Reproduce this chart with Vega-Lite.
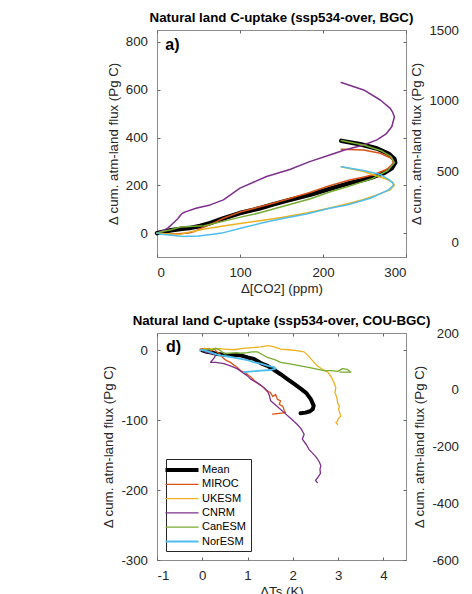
{
"$schema": "https://vega.github.io/schema/vega-lite/v6.json",
"background": "white",
"padding": {"left": 101, "top": 10, "right": 0, "bottom": 0},
"datasets": {
"a": [
{"m":"Mean","t":0,"x":0,"y":0},{"m":"Mean","t":1,"x":8,"y":6},{"m":"Mean","t":2,"x":17,"y":12},{"m":"Mean","t":3,"x":28,"y":17},{"m":"Mean","t":4,"x":39,"y":21},{"m":"Mean","t":5,"x":52,"y":30},{"m":"Mean","t":6,"x":64,"y":42},{"m":"Mean","t":7,"x":80,"y":62},{"m":"Mean","t":8,"x":100,"y":84},{"m":"Mean","t":9,"x":124,"y":104},{"m":"Mean","t":10,"x":140,"y":120},{"m":"Mean","t":11,"x":160,"y":139},{"m":"Mean","t":12,"x":184,"y":160},{"m":"Mean","t":13,"x":208,"y":185},{"m":"Mean","t":14,"x":232,"y":209},{"m":"Mean","t":15,"x":248.5,"y":223},{"m":"Mean","t":16,"x":262,"y":237},{"m":"Mean","t":17,"x":274,"y":252},{"m":"Mean","t":18,"x":283,"y":272},{"m":"Mean","t":19,"x":287,"y":295},{"m":"Mean","t":20,"x":286,"y":310},{"m":"Mean","t":21,"x":279,"y":332},{"m":"Mean","t":22,"x":265,"y":354},{"m":"Mean","t":23,"x":245,"y":372},{"m":"Mean","t":24,"x":222,"y":386},
{"m":"MIROC","t":0,"x":0,"y":0},{"m":"MIROC","t":1,"x":5,"y":-3},{"m":"MIROC","t":2,"x":12,"y":-5},{"m":"MIROC","t":3,"x":25,"y":-3},{"m":"MIROC","t":4,"x":38,"y":0},{"m":"MIROC","t":5,"x":45,"y":7},{"m":"MIROC","t":6,"x":53,"y":20},{"m":"MIROC","t":7,"x":61,"y":32},{"m":"MIROC","t":8,"x":70,"y":45},{"m":"MIROC","t":9,"x":80,"y":62},{"m":"MIROC","t":10,"x":100,"y":88},{"m":"MIROC","t":11,"x":124,"y":110},{"m":"MIROC","t":12,"x":140,"y":125},{"m":"MIROC","t":13,"x":160,"y":145},{"m":"MIROC","t":14,"x":184,"y":170},{"m":"MIROC","t":15,"x":208,"y":198},{"m":"MIROC","t":16,"x":232,"y":222},{"m":"MIROC","t":17,"x":248,"y":234},{"m":"MIROC","t":18,"x":261,"y":244},{"m":"MIROC","t":19,"x":277,"y":267},{"m":"MIROC","t":20,"x":285,"y":293},{"m":"MIROC","t":21,"x":283,"y":312},{"m":"MIROC","t":22,"x":269,"y":334},{"m":"MIROC","t":23,"x":249,"y":348},{"m":"MIROC","t":24,"x":222,"y":351},
{"m":"UKESM","t":0,"x":0,"y":0},{"m":"UKESM","t":1,"x":10,"y":-3},{"m":"UKESM","t":2,"x":19,"y":-5},{"m":"UKESM","t":3,"x":30,"y":-4},{"m":"UKESM","t":4,"x":37,"y":3},{"m":"UKESM","t":5,"x":50,"y":12},{"m":"UKESM","t":6,"x":57,"y":17},{"m":"UKESM","t":7,"x":78,"y":29},{"m":"UKESM","t":8,"x":100,"y":40},{"m":"UKESM","t":9,"x":126,"y":53},{"m":"UKESM","t":10,"x":150,"y":65},{"m":"UKESM","t":11,"x":180,"y":84},{"m":"UKESM","t":12,"x":208,"y":105},{"m":"UKESM","t":13,"x":232,"y":125},{"m":"UKESM","t":14,"x":248,"y":140},{"m":"UKESM","t":15,"x":265,"y":160},{"m":"UKESM","t":16,"x":281,"y":181},{"m":"UKESM","t":17,"x":286,"y":200},{"m":"UKESM","t":18,"x":284,"y":212},{"m":"UKESM","t":19,"x":276,"y":226},{"m":"UKESM","t":20,"x":265,"y":239},{"m":"UKESM","t":21,"x":249,"y":258},{"m":"UKESM","t":22,"x":222,"y":278},
{"m":"CNRM","t":0,"x":0,"y":0},{"m":"CNRM","t":1,"x":7,"y":10},{"m":"CNRM","t":2,"x":13,"y":21},{"m":"CNRM","t":3,"x":19,"y":40},{"m":"CNRM","t":4,"x":25,"y":60},{"m":"CNRM","t":5,"x":29,"y":78},{"m":"CNRM","t":6,"x":31,"y":84},{"m":"CNRM","t":7,"x":35,"y":90},{"m":"CNRM","t":8,"x":47,"y":104},{"m":"CNRM","t":9,"x":64,"y":118},{"m":"CNRM","t":10,"x":80,"y":139},{"m":"CNRM","t":11,"x":100,"y":188},{"m":"CNRM","t":12,"x":132,"y":237},{"m":"CNRM","t":13,"x":160,"y":266},{"m":"CNRM","t":14,"x":184,"y":299},{"m":"CNRM","t":15,"x":208,"y":327},{"m":"CNRM","t":16,"x":226,"y":348},{"m":"CNRM","t":17,"x":249,"y":369},{"m":"CNRM","t":18,"x":265,"y":390},{"m":"CNRM","t":19,"x":276,"y":415},{"m":"CNRM","t":20,"x":283,"y":446},{"m":"CNRM","t":21,"x":286,"y":487},{"m":"CNRM","t":22,"x":284,"y":505},{"m":"CNRM","t":23,"x":281,"y":522},{"m":"CNRM","t":24,"x":269,"y":557},{"m":"CNRM","t":25,"x":249,"y":599},{"m":"CNRM","t":26,"x":222,"y":630},
{"m":"CanESM","t":0,"x":0,"y":0},{"m":"CanESM","t":1,"x":8,"y":8},{"m":"CanESM","t":2,"x":17,"y":14},{"m":"CanESM","t":3,"x":29,"y":26},{"m":"CanESM","t":4,"x":45,"y":29},{"m":"CanESM","t":5,"x":57,"y":31},{"m":"CanESM","t":6,"x":78,"y":48},{"m":"CanESM","t":7,"x":102,"y":68},{"m":"CanESM","t":8,"x":124,"y":85},{"m":"CanESM","t":9,"x":150,"y":110},{"m":"CanESM","t":10,"x":184,"y":143},{"m":"CanESM","t":11,"x":208,"y":172},{"m":"CanESM","t":12,"x":232,"y":197},{"m":"CanESM","t":13,"x":260,"y":229},{"m":"CanESM","t":14,"x":278,"y":262},{"m":"CanESM","t":15,"x":286,"y":295},{"m":"CanESM","t":16,"x":282,"y":320},{"m":"CanESM","t":17,"x":270,"y":345},{"m":"CanESM","t":18,"x":250,"y":368},{"m":"CanESM","t":19,"x":222,"y":388},
{"m":"NorESM","t":0,"x":0,"y":0},{"m":"NorESM","t":1,"x":5,"y":-5},{"m":"NorESM","t":2,"x":15,"y":-8},{"m":"NorESM","t":3,"x":31,"y":-14},{"m":"NorESM","t":4,"x":50,"y":-12},{"m":"NorESM","t":5,"x":65,"y":-6},{"m":"NorESM","t":6,"x":78,"y":0},{"m":"NorESM","t":7,"x":102,"y":21},{"m":"NorESM","t":8,"x":126,"y":42},{"m":"NorESM","t":9,"x":150,"y":60},{"m":"NorESM","t":10,"x":180,"y":80},{"m":"NorESM","t":11,"x":208,"y":104},{"m":"NorESM","t":12,"x":229,"y":118},{"m":"NorESM","t":13,"x":257,"y":146},{"m":"NorESM","t":14,"x":279,"y":181},{"m":"NorESM","t":15,"x":285,"y":200},{"m":"NorESM","t":16,"x":284,"y":210},{"m":"NorESM","t":17,"x":279,"y":225},{"m":"NorESM","t":18,"x":269,"y":245},{"m":"NorESM","t":19,"x":249,"y":262},{"m":"NorESM","t":20,"x":222,"y":278}
],
"d": [
{"m":"Mean","t":0,"x":0,"y":0},{"m":"Mean","t":1,"x":0.1,"y":-2},{"m":"Mean","t":2,"x":0.2,"y":-3},{"m":"Mean","t":3,"x":0.33,"y":-5},{"m":"Mean","t":4,"x":0.5,"y":-6},{"m":"Mean","t":5,"x":0.7,"y":-7},{"m":"Mean","t":6,"x":0.85,"y":-7},{"m":"Mean","t":7,"x":1.0,"y":-10},{"m":"Mean","t":8,"x":1.14,"y":-12},{"m":"Mean","t":9,"x":1.29,"y":-18},{"m":"Mean","t":10,"x":1.44,"y":-22},{"m":"Mean","t":11,"x":1.59,"y":-28},{"m":"Mean","t":12,"x":1.73,"y":-34},{"m":"Mean","t":13,"x":1.88,"y":-41},{"m":"Mean","t":14,"x":2.03,"y":-48},{"m":"Mean","t":15,"x":2.18,"y":-55},{"m":"Mean","t":16,"x":2.3,"y":-61},{"m":"Mean","t":17,"x":2.4,"y":-70},{"m":"Mean","t":18,"x":2.46,"y":-79},{"m":"Mean","t":19,"x":2.44,"y":-84},{"m":"Mean","t":20,"x":2.38,"y":-87},{"m":"Mean","t":21,"x":2.28,"y":-89},{"m":"Mean","t":22,"x":2.17,"y":-90},
{"m":"MIROC","t":0,"x":0,"y":0},{"m":"MIROC","t":1,"x":-0.05,"y":2},{"m":"MIROC","t":2,"x":0.05,"y":3},{"m":"MIROC","t":3,"x":0.1,"y":1},{"m":"MIROC","t":4,"x":0.15,"y":3},{"m":"MIROC","t":5,"x":0.2,"y":-1},{"m":"MIROC","t":6,"x":0.27,"y":2},{"m":"MIROC","t":7,"x":0.32,"y":-2},{"m":"MIROC","t":8,"x":0.36,"y":-4},{"m":"MIROC","t":9,"x":0.42,"y":-8},{"m":"MIROC","t":10,"x":0.48,"y":-12},{"m":"MIROC","t":11,"x":0.55,"y":-15},{"m":"MIROC","t":12,"x":0.62,"y":-17},{"m":"MIROC","t":13,"x":0.7,"y":-21},{"m":"MIROC","t":14,"x":0.77,"y":-24},{"m":"MIROC","t":15,"x":0.85,"y":-29},{"m":"MIROC","t":16,"x":0.95,"y":-32},{"m":"MIROC","t":17,"x":1.07,"y":-38},{"m":"MIROC","t":18,"x":1.15,"y":-43},{"m":"MIROC","t":19,"x":1.25,"y":-48},{"m":"MIROC","t":20,"x":1.36,"y":-53},{"m":"MIROC","t":21,"x":1.42,"y":-58},{"m":"MIROC","t":22,"x":1.5,"y":-60},{"m":"MIROC","t":23,"x":1.56,"y":-66},{"m":"MIROC","t":24,"x":1.62,"y":-63},{"m":"MIROC","t":25,"x":1.66,"y":-70},{"m":"MIROC","t":26,"x":1.73,"y":-72},{"m":"MIROC","t":27,"x":1.7,"y":-77},{"m":"MIROC","t":28,"x":1.78,"y":-80},{"m":"MIROC","t":29,"x":1.81,"y":-86},{"m":"MIROC","t":30,"x":1.84,"y":-89},{"m":"MIROC","t":31,"x":1.7,"y":-90},{"m":"MIROC","t":32,"x":1.55,"y":-91},
{"m":"UKESM","t":0,"x":0,"y":0},{"m":"UKESM","t":1,"x":0.05,"y":3},{"m":"UKESM","t":2,"x":0.15,"y":2},{"m":"UKESM","t":3,"x":0.3,"y":3},{"m":"UKESM","t":4,"x":0.5,"y":2},{"m":"UKESM","t":5,"x":0.7,"y":1},{"m":"UKESM","t":6,"x":0.9,"y":3},{"m":"UKESM","t":7,"x":1.1,"y":4},{"m":"UKESM","t":8,"x":1.29,"y":5},{"m":"UKESM","t":9,"x":1.45,"y":7},{"m":"UKESM","t":10,"x":1.55,"y":6},{"m":"UKESM","t":11,"x":1.73,"y":2},{"m":"UKESM","t":12,"x":1.9,"y":1},{"m":"UKESM","t":13,"x":2.05,"y":0},{"m":"UKESM","t":14,"x":2.25,"y":-2},{"m":"UKESM","t":15,"x":2.33,"y":-7},{"m":"UKESM","t":16,"x":2.4,"y":-12},{"m":"UKESM","t":17,"x":2.47,"y":-17},{"m":"UKESM","t":18,"x":2.54,"y":-22},{"m":"UKESM","t":19,"x":2.65,"y":-27},{"m":"UKESM","t":20,"x":2.77,"y":-31},{"m":"UKESM","t":21,"x":2.85,"y":-38},{"m":"UKESM","t":22,"x":2.91,"y":-46},{"m":"UKESM","t":23,"x":2.95,"y":-53},{"m":"UKESM","t":24,"x":2.93,"y":-60},{"m":"UKESM","t":25,"x":2.97,"y":-67},{"m":"UKESM","t":26,"x":2.99,"y":-75},{"m":"UKESM","t":27,"x":3.03,"y":-80},{"m":"UKESM","t":28,"x":3.01,"y":-84},{"m":"UKESM","t":29,"x":3.06,"y":-94},{"m":"UKESM","t":30,"x":3.0,"y":-98},{"m":"UKESM","t":31,"x":2.99,"y":-101},{"m":"UKESM","t":32,"x":2.95,"y":-103},{"m":"UKESM","t":33,"x":2.99,"y":-106},
{"m":"CNRM","t":0,"x":0,"y":0},{"m":"CNRM","t":1,"x":0.1,"y":-3},{"m":"CNRM","t":2,"x":0.2,"y":-4},{"m":"CNRM","t":3,"x":0.3,"y":-6},{"m":"CNRM","t":4,"x":0.27,"y":-10},{"m":"CNRM","t":5,"x":0.22,"y":-14},{"m":"CNRM","t":6,"x":0.18,"y":-17},{"m":"CNRM","t":7,"x":0.3,"y":-17},{"m":"CNRM","t":8,"x":0.48,"y":-19},{"m":"CNRM","t":9,"x":0.62,"y":-22},{"m":"CNRM","t":10,"x":0.77,"y":-26},{"m":"CNRM","t":11,"x":0.88,"y":-31},{"m":"CNRM","t":12,"x":0.99,"y":-36},{"m":"CNRM","t":13,"x":1.07,"y":-41},{"m":"CNRM","t":14,"x":1.2,"y":-46},{"m":"CNRM","t":15,"x":1.3,"y":-50},{"m":"CNRM","t":16,"x":1.44,"y":-58},{"m":"CNRM","t":17,"x":1.48,"y":-64},{"m":"CNRM","t":18,"x":1.51,"y":-72},{"m":"CNRM","t":19,"x":1.65,"y":-80},{"m":"CNRM","t":20,"x":1.81,"y":-89},{"m":"CNRM","t":21,"x":1.95,"y":-97},{"m":"CNRM","t":22,"x":2.1,"y":-106},{"m":"CNRM","t":23,"x":2.18,"y":-112},{"m":"CNRM","t":24,"x":2.25,"y":-120},{"m":"CNRM","t":25,"x":2.21,"y":-127},{"m":"CNRM","t":26,"x":2.3,"y":-135},{"m":"CNRM","t":27,"x":2.36,"y":-142},{"m":"CNRM","t":28,"x":2.45,"y":-148},{"m":"CNRM","t":29,"x":2.52,"y":-153},{"m":"CNRM","t":30,"x":2.58,"y":-159},{"m":"CNRM","t":31,"x":2.62,"y":-165},{"m":"CNRM","t":32,"x":2.6,"y":-170},{"m":"CNRM","t":33,"x":2.61,"y":-176},{"m":"CNRM","t":34,"x":2.54,"y":-183},{"m":"CNRM","t":35,"x":2.5,"y":-186},{"m":"CNRM","t":36,"x":2.54,"y":-189},
{"m":"CanESM","t":0,"x":0,"y":0},{"m":"CanESM","t":1,"x":0.1,"y":2},{"m":"CanESM","t":2,"x":0.2,"y":1},{"m":"CanESM","t":3,"x":0.3,"y":3},{"m":"CanESM","t":4,"x":0.4,"y":0},{"m":"CanESM","t":5,"x":0.45,"y":-3},{"m":"CanESM","t":6,"x":0.5,"y":-5},{"m":"CanESM","t":7,"x":0.6,"y":-4},{"m":"CanESM","t":8,"x":0.75,"y":-3},{"m":"CanESM","t":9,"x":0.85,"y":-4},{"m":"CanESM","t":10,"x":1.0,"y":-3},{"m":"CanESM","t":11,"x":1.1,"y":-2},{"m":"CanESM","t":12,"x":1.22,"y":-2},{"m":"CanESM","t":13,"x":1.3,"y":-5},{"m":"CanESM","t":14,"x":1.44,"y":-10},{"m":"CanESM","t":15,"x":1.6,"y":-13},{"m":"CanESM","t":16,"x":1.73,"y":-17},{"m":"CanESM","t":17,"x":1.9,"y":-19},{"m":"CanESM","t":18,"x":2.17,"y":-22},{"m":"CanESM","t":19,"x":2.4,"y":-25},{"m":"CanESM","t":20,"x":2.69,"y":-29},{"m":"CanESM","t":21,"x":2.85,"y":-29},{"m":"CanESM","t":22,"x":2.99,"y":-30},{"m":"CanESM","t":23,"x":3.1,"y":-26},{"m":"CanESM","t":24,"x":3.2,"y":-27},{"m":"CanESM","t":25,"x":3.24,"y":-29},{"m":"CanESM","t":26,"x":3.28,"y":-31},{"m":"CanESM","t":27,"x":3.15,"y":-31},{"m":"CanESM","t":28,"x":3.04,"y":-31},
{"m":"NorESM","t":0,"x":-0.05,"y":0},{"m":"NorESM","t":1,"x":0,"y":1},{"m":"NorESM","t":2,"x":0.1,"y":-1},{"m":"NorESM","t":3,"x":0.2,"y":-3},{"m":"NorESM","t":4,"x":0.33,"y":-6},{"m":"NorESM","t":5,"x":0.41,"y":-7},{"m":"NorESM","t":6,"x":0.6,"y":-9},{"m":"NorESM","t":7,"x":0.85,"y":-12},{"m":"NorESM","t":8,"x":1.0,"y":-14},{"m":"NorESM","t":9,"x":1.15,"y":-17},{"m":"NorESM","t":10,"x":1.29,"y":-19},{"m":"NorESM","t":11,"x":1.45,"y":-22},{"m":"NorESM","t":12,"x":1.59,"y":-24},{"m":"NorESM","t":13,"x":1.62,"y":-26},{"m":"NorESM","t":14,"x":1.5,"y":-28},{"m":"NorESM","t":15,"x":1.29,"y":-29},{"m":"NorESM","t":16,"x":1.1,"y":-30},{"m":"NorESM","t":17,"x":0.92,"y":-31}
]
},
"config": {
"font": "Liberation Sans",
"view": {"stroke": "#8c8c8c", "strokeWidth": 1},
"axis": {"domain": false, "grid": false, "tickSize": -3, "tickColor": "#666666", "labelFontSize": 13.3, "labelColor": "#262626", "titleFontSize": 13.3, "titleFontWeight": "normal", "titleColor": "#262626", "labelPadding": 12.5, "titlePadding": 5, "format": "d"},
"axisX": {"labelPadding": 11, "titlePadding": 3},
"title": {"fontSize": 13.3, "fontWeight": "bold", "color": "#000000", "offset": 5},
"line": {"strokeJoin": "round", "strokeCap": "round"}
},
"columns": 2,
"spacing": {"row": 76, "column": 62},
"bounds": "flush",
"resolve": {"scale": {"color": "independent", "strokeWidth": "independent"}, "legend": {"color": "independent", "strokeWidth": "independent"}},
"concat": [
{
"width": 249, "height": 227,
"title": "Natural land C-uptake (ssp534-over, BGC)",
"layer": [
{"data": {"name": "a"},
"mark": {"type": "line"},
"encoding": {
"x": {"field": "x", "type": "quantitative", "scale": {"domain": [0, 300], "nice": false}, "axis": {"values": [0, 100, 200, 300], "title": "Δ[CO2] (ppm)"}},
"y": {"field": "y", "type": "quantitative", "scale": {"domain": [-100, 850], "nice": false}, "axis": {"values": [0, 200, 400, 600, 800], "title": "Δ cum. atm-land flux (Pg C)"}},
"color": {"field": "m", "type": "nominal", "scale": {"domain": ["Mean", "MIROC", "UKESM", "CNRM", "CanESM", "NorESM"], "range": ["#000000", "#D95319", "#EDB120", "#7E2F8E", "#77AC30", "#4DBEEE"]}, "legend": null},
"strokeWidth": {"field": "m", "type": "nominal", "scale": {"type": "ordinal", "domain": ["Mean", "MIROC", "UKESM", "CNRM", "CanESM", "NorESM"], "range": [4.5, 1.5, 1.5, 1.5, 1.5, 1.5]}, "legend": null},
"order": {"field": "t", "type": "quantitative"}
}},
{"data": {"values": [{"label": "a)"}]},
"mark": {"type": "text", "fontSize": 16, "fontWeight": "bold", "align": "left", "baseline": "middle", "color": "#000000"},
"encoding": {
"text": {"field": "label"},
"x": {"datum": 10, "type": "quantitative", "axis": {"orient": "top", "values": [0, 100, 200, 300], "labels": false, "title": null}},
"y": {"datum": 787, "type": "quantitative", "axis": {"orient": "right", "values": [0, 200, 400, 600, 800], "labels": false, "title": null}}
}}
],
"resolve": {"axis": {"x": "independent", "y": "independent"}}
},
{
"width": 2, "height": 227,
"view": {"stroke": null},
"data": {"values": [{"v": 0}]},
"mark": {"type": "point", "opacity": 0},
"encoding": {
"y": {"field": "v", "type": "quantitative", "scale": {"domain": [-100, 1500], "nice": false}, "axis": {"values": [0, 500, 1000, 1500], "title": "Δ cum. atm-land flux (Pg C)", "ticks": false, "labelPadding": 9.5}}
}
},
{
"width": 249, "height": 227,
"title": "Natural land C-uptake (ssp534-over, COU-BGC)",
"layer": [
{"data": {"name": "d"},
"mark": {"type": "line"},
"encoding": {
"x": {"field": "x", "type": "quantitative", "scale": {"domain": [-1, 4.5], "nice": false}, "axis": {"values": [-1, 0, 1, 2, 3, 4], "title": "ΔTs (K)", "labelExpr": "'' + datum.value"}},
"y": {"field": "y", "type": "quantitative", "scale": {"domain": [-300, 25], "nice": false}, "axis": {"values": [-300, -200, -100, 0], "title": "Δ cum. atm-land flux (Pg C)", "labelExpr": "'' + datum.value"}},
"color": {"field": "m", "type": "nominal", "scale": {"domain": ["Mean", "MIROC", "UKESM", "CNRM", "CanESM", "NorESM"], "range": ["#000000", "#D95319", "#EDB120", "#7E2F8E", "#77AC30", "#4DBEEE"]},
"legend": {"title": null, "orient": "bottom-left", "offset": 9, "strokeColor": "#262626", "fillColor": "#ffffff", "padding": 4, "labelFontSize": 11, "labelColor": "#000000", "symbolType": "M-3.3,0L3.3,0", "symbolSize": 100, "rowPadding": 3.3, "labelOffset": 13, "symbolOffset": 5}},
"strokeWidth": {"field": "m", "type": "nominal", "scale": {"type": "ordinal", "domain": ["Mean", "MIROC", "UKESM", "CNRM", "CanESM", "NorESM"], "range": [4, 1.3, 1.3, 1.3, 1.3, 1.8]}},
"order": {"field": "t", "type": "quantitative"}
}},
{"data": {"values": [{"label": "d)"}]},
"mark": {"type": "text", "fontSize": 16, "fontWeight": "bold", "align": "left", "baseline": "middle", "color": "#000000"},
"encoding": {
"text": {"field": "label"},
"x": {"datum": -0.8, "type": "quantitative", "axis": {"orient": "top", "values": [-1, 0, 1, 2, 3, 4], "labels": false, "title": null}},
"y": {"datum": 5, "type": "quantitative", "axis": {"orient": "right", "values": [-300, -200, -100, 0], "labels": false, "title": null}}
}}
],
"resolve": {"axis": {"x": "independent", "y": "independent"}}
},
{
"width": 2, "height": 227,
"view": {"stroke": null},
"data": {"values": [{"v": 0}]},
"mark": {"type": "point", "opacity": 0},
"encoding": {
"y": {"field": "v", "type": "quantitative", "scale": {"domain": [-600, 200], "nice": false}, "axis": {"values": [-600, -400, -200, 0, 200], "title": "Δ cum. atm-land flux (Pg C)", "ticks": false, "labelPadding": 9.5, "labelExpr": "'' + datum.value"}}
}
}
]
}
